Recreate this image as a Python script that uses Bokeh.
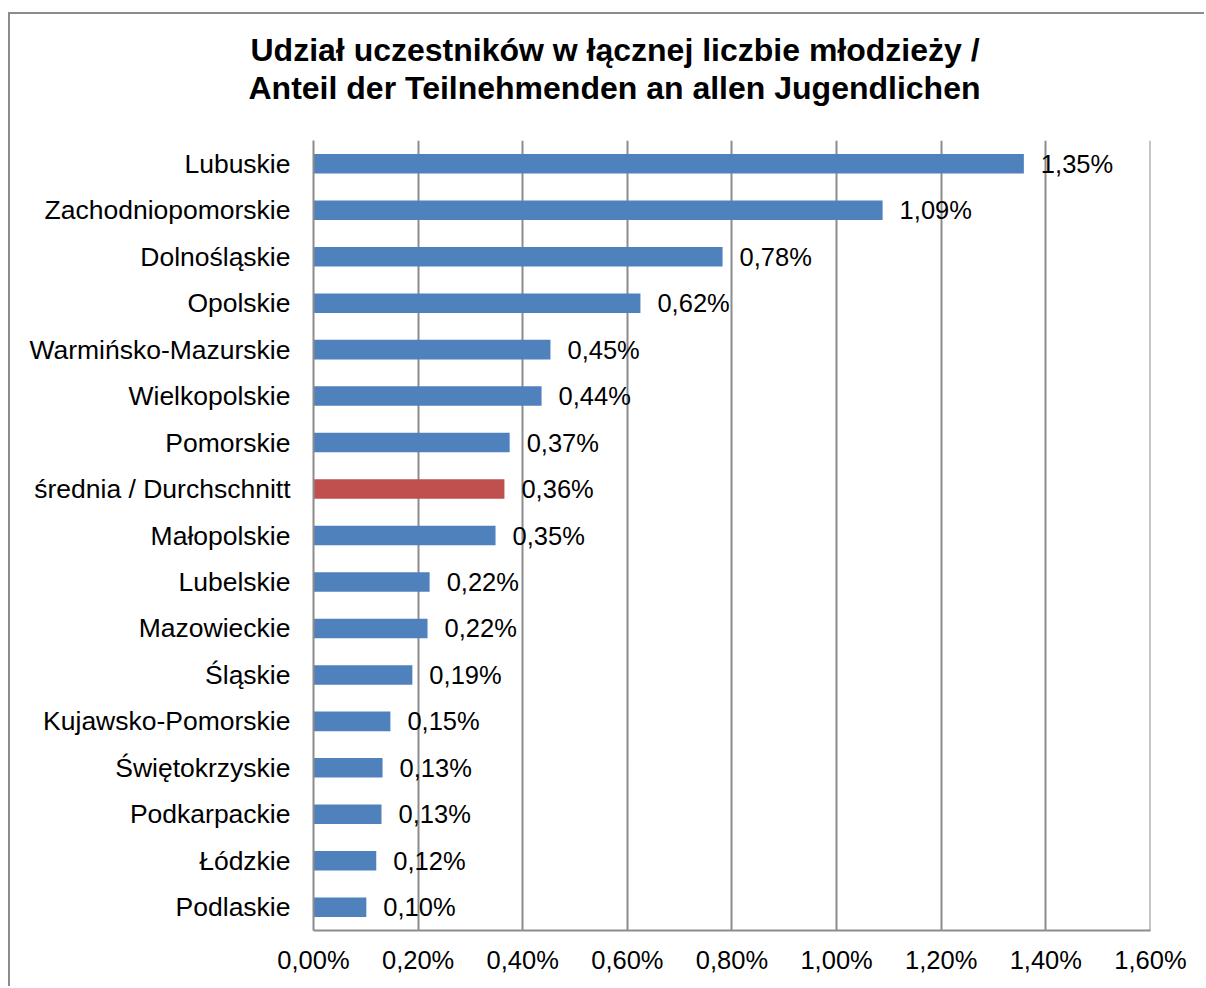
from bokeh.plotting import figure
from bokeh.models import (FactorRange, Range1d, FixedTicker, CustomJSTickFormatter,
                          Title, ColumnDataSource)
from bokeh.embed import file_html
from bokeh.resources import INLINE
from bokeh.core.properties import value

# ---- data ----
regions = ["Lubuskie", "Zachodniopomorskie", "Dolnośląskie", "Opolskie",
           "Warmińsko-Mazurskie", "Wielkopolskie", "Pomorskie",
           "średnia / Durchschnitt", "Małopolskie", "Lubelskie", "Mazowieckie",
           "Śląskie", "Kujawsko-Pomorskie", "Świętokrzyskie", "Podkarpackie",
           "Łódzkie", "Podlaskie"]
shares = [1.358, 1.088, 0.782, 0.625, 0.453, 0.436, 0.375, 0.365, 0.348,
          0.222, 0.218, 0.189, 0.147, 0.132, 0.130, 0.120, 0.101]
share_labels = ["1,35%", "1,09%", "0,78%", "0,62%", "0,45%", "0,44%", "0,37%",
                "0,36%", "0,35%", "0,22%", "0,22%", "0,19%", "0,15%", "0,13%",
                "0,13%", "0,12%", "0,10%"]
average_name = "średnia / Durchschnitt"
x_ticks = [0.0, 0.2, 0.4, 0.6, 0.8, 1.0, 1.2, 1.4, 1.6]
title_line1 = "Udział uczestników w łącznej liczbie młodzieży /"
title_line2 = "Anteil der Teilnehmenden an allen Jugendlichen"

BLUE = "#4F81BD"
RED = "#C0504D"
GRID = "#8C8C8C"
FONT = "Liberation Sans"

colors = [RED if r == average_name else BLUE for r in regions]
source = ColumnDataSource(data=dict(region=regions, share=shares,
                                    label=share_labels, color=colors))

p = figure(
    width=1196, height=974,
    y_range=FactorRange(factors=list(reversed(regions))),
    x_range=Range1d(0, 1.6001),
    output_backend="svg", toolbar_location=None,
    min_border_left=303, min_border_right=56, min_border_bottom=58,
    min_border_top=126,
)
p.styles = {"margin-top": "12px", "margin-left": "8px",
            "border-top": "2px solid #8C8C8C",
            "border-left": "2px solid #8C8C8C"}

p.hbar(y="region", right="share", left=0, height=0.42, color="color",
       line_color=None, source=source)

p.text(x="share", y="region", text="label", source=source, x_offset=17,
       text_baseline="middle", text_align="left",
       text_font=value(FONT), text_font_size=value("25.5px"), text_color="black")

# titles (added bottom-up: spacer, line 2, line 1)
spacer = Title(text=" ", text_font_size="2px", standoff=31)
t2 = Title(text=title_line2, align="left", offset=-65, text_font=FONT,
           text_font_size="32px", text_font_style="bold", text_color="black",
           standoff=0)
t1 = Title(text=title_line1, align="left", offset=-63, text_font=FONT,
           text_font_size="32px", text_font_style="bold", text_color="black",
           standoff=0)
p.add_layout(spacer, "above")
p.add_layout(t2, "above")
p.add_layout(t1, "above")

# x axis
p.xaxis.ticker = FixedTicker(ticks=x_ticks)
p.xaxis.formatter = CustomJSTickFormatter(
    code="return tick.toFixed(2).replace('.', ',') + '%';")
p.xaxis.major_label_text_font = FONT
p.xaxis.major_label_text_font_size = "25.5px"
p.xaxis.major_label_text_color = "black"
p.xaxis.major_label_standoff = 15
p.xaxis.major_tick_out = 0
p.xaxis.major_tick_in = 0
p.xaxis.minor_tick_out = 0
p.xaxis.minor_tick_in = 0
p.xaxis.axis_line_color = GRID
p.xaxis.axis_line_width = 2

# y axis
p.yaxis.major_label_text_font = FONT
p.yaxis.major_label_text_font_size = "26.5px"
p.yaxis.major_label_text_color = "black"
p.yaxis.major_label_standoff = 23
p.yaxis.major_tick_out = 0
p.yaxis.major_tick_in = 0
p.yaxis.axis_line_color = GRID
p.yaxis.axis_line_width = 2

# grid
p.xgrid.ticker = FixedTicker(ticks=x_ticks)
p.xgrid.grid_line_color = GRID
p.xgrid.grid_line_width = 2
p.ygrid.grid_line_color = None
p.outline_line_color = None
p.background_fill_color = "white"
p.border_fill_color = "white"

open("out.html", "w").write(file_html(p, INLINE))
